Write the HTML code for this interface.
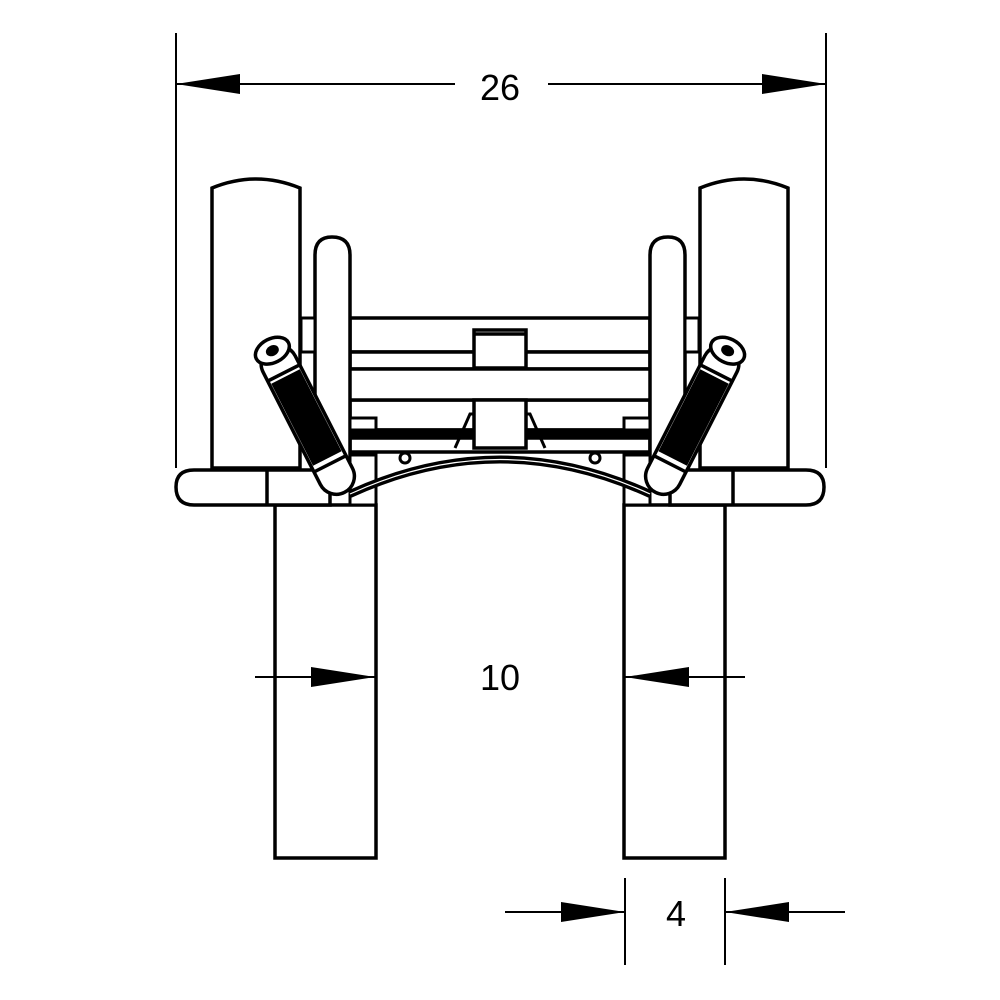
<!DOCTYPE html>
<html><head><style>html,body{margin:0;padding:0;background:#fff}svg{display:block}</style></head>
<body>
<svg width="1000" height="1000" viewBox="0 0 1000 1000" xmlns="http://www.w3.org/2000/svg">
<defs>
<g id="half" fill="#fff" stroke="#000" stroke-width="3.5">
  <path d="M212,468 V188 Q256,170 300,188 V468 Z"/>
  <rect x="275" y="505" width="101" height="353"/>
  <path d="M315,470 V255 Q315,237 332,237 Q350,237 350,255 V470 Z"/>
  <rect x="301" y="318" width="14" height="34" stroke-width="3"/>
  <path d="M194,470 H330 V505 H194 Q176,505 176,487 Q176,470 194,470 Z"/>
  <line x1="267" y1="470" x2="267" y2="505"/>
  <rect x="350" y="418" width="26" height="12" stroke-width="3"/>
  <rect x="350" y="455" width="26" height="50" stroke-width="3"/>
  <g transform="translate(271,348) rotate(-27)">
    <rect x="-18" y="0" width="36" height="162" rx="18"/>
    <rect x="-16" y="32" width="32" height="92" fill="#000" stroke="none"/>
    <line x1="-18" y1="28" x2="18" y2="28"/>
    <line x1="-18" y1="130" x2="18" y2="130"/>
    <ellipse cx="0" cy="3" rx="18" ry="12"/>
    <ellipse cx="0" cy="3" rx="5" ry="3.5" fill="#000"/>
  </g>
  <circle cx="405" cy="458" r="5" stroke-width="3"/>
  <path d="M455,448 L470,414 H474" fill="none" stroke-width="3"/>
</g>
</defs>

<g fill="#fff" stroke="#000" stroke-width="3.5">
  <rect x="350" y="318" width="300" height="34"/>
  <rect x="350" y="352" width="300" height="17"/>
  <rect x="350" y="400" width="300" height="30"/>
  <rect x="350" y="430" width="300" height="8" fill="#000"/>
  <rect x="350" y="438" width="300" height="14"/>
  <path d="M350,369 H652 Q656,369 656,375 V395 Q656,400 652,400 H350 Q345,400 345,395 V375 Q345,369 350,369 Z"/>
  <rect x="474" y="330" width="52" height="38"/>
  <line x1="474" y1="334" x2="526" y2="334"/>
  <rect x="474" y="400" width="52" height="48"/>
  <line x1="660" y1="376" x2="660" y2="390" stroke-width="2"/>
</g>

<use href="#half"/>
<use href="#half" transform="translate(1000,0) scale(-1,1)"/>

<path d="M350,494 Q500,425 650,494" fill="none" stroke="#000" stroke-width="8"/>
<path d="M350,494 Q500,425 650,494" fill="none" stroke="#fff" stroke-width="1.2"/>

<g stroke="#000" stroke-width="2">
  <line x1="176" y1="33" x2="176" y2="468"/>
  <line x1="826" y1="33" x2="826" y2="468"/>
  <line x1="176" y1="84" x2="455" y2="84"/>
  <line x1="548" y1="84" x2="826" y2="84"/>
  <line x1="255" y1="677" x2="375" y2="677"/>
  <line x1="625" y1="677" x2="745" y2="677"/>
  <line x1="625" y1="878" x2="625" y2="965"/>
  <line x1="725" y1="878" x2="725" y2="965"/>
  <line x1="505" y1="912" x2="625" y2="912"/>
  <line x1="725" y1="912" x2="845" y2="912"/>
</g>
<g fill="#000">
  <polygon points="176,84 240,74 240,94"/>
  <polygon points="826,84 762,74 762,94"/>
  <polygon points="375,677 311,667 311,687"/>
  <polygon points="625,677 689,667 689,687"/>
  <polygon points="625,912 561,902 561,922"/>
  <polygon points="725,912 789,902 789,922"/>
</g>
<g font-family="Liberation Sans, sans-serif" font-size="36" text-anchor="middle" fill="#000">
  <text x="500" y="100">26</text>
  <text x="500" y="690">10</text>
  <text x="676" y="926">4</text>
</g>
</svg>
</body></html>
